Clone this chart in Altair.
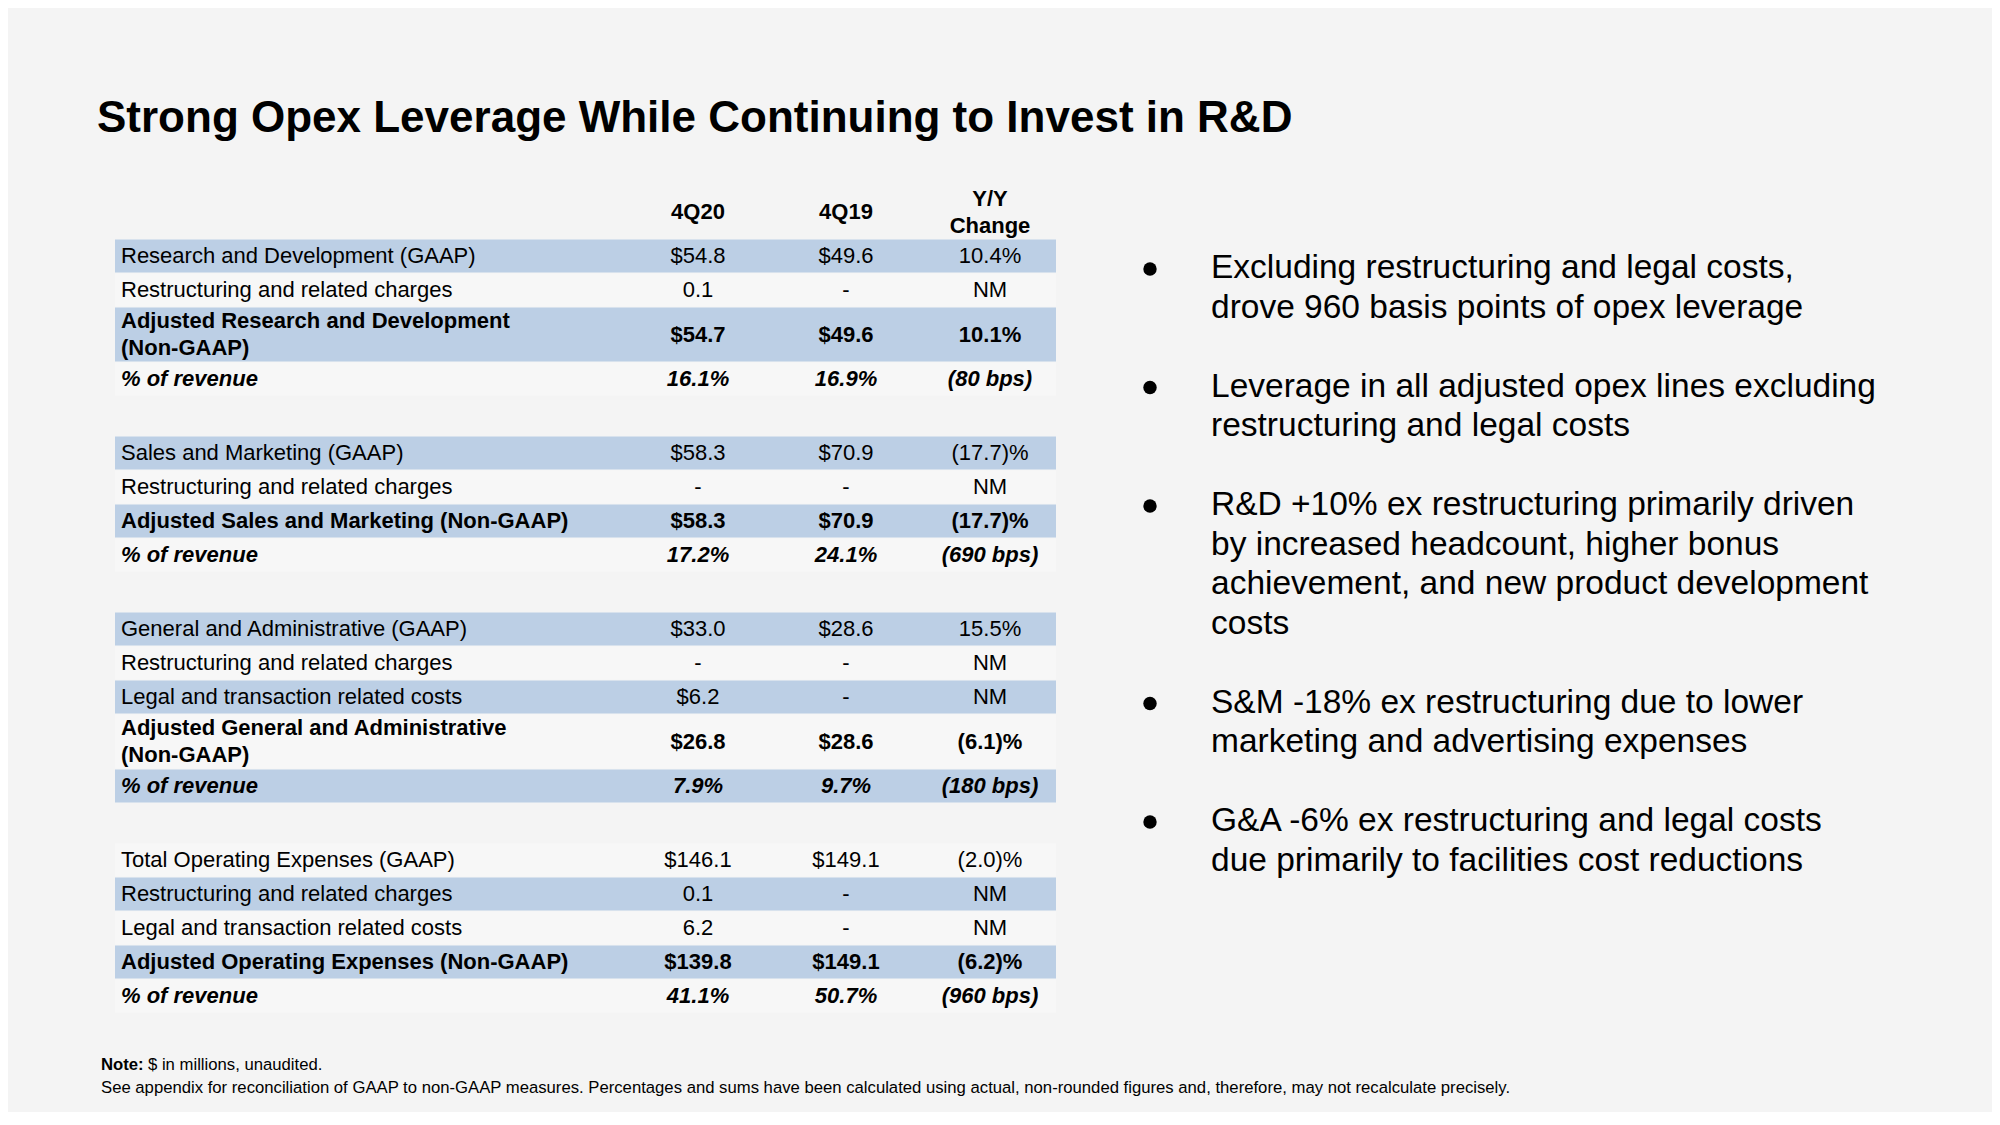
import altair as alt
import pandas as pd

# ---------------- data ----------------
TITLE = "Strong Opex Leverage While Continuing to Invest in R&D"
HEADERS = ["4Q20", "4Q19", "Y/Y\nChange"]

rd_labels = ["Research and Development (GAAP)", "Restructuring and related charges",
             "Adjusted Research and Development\n(Non-GAAP)", "% of revenue"]
rd_4q20 = ["$54.8", "0.1", "$54.7", "16.1%"]
rd_4q19 = ["$49.6", "-", "$49.6", "16.9%"]
rd_yy = ["10.4%", "NM", "10.1%", "(80 bps)"]

sm_labels = ["Sales and Marketing (GAAP)", "Restructuring and related charges",
             "Adjusted Sales and Marketing (Non-GAAP)", "% of revenue"]
sm_4q20 = ["$58.3", "-", "$58.3", "17.2%"]
sm_4q19 = ["$70.9", "-", "$70.9", "24.1%"]
sm_yy = ["(17.7)%", "NM", "(17.7)%", "(690 bps)"]

ga_labels = ["General and Administrative (GAAP)", "Restructuring and related charges",
             "Legal and transaction related costs",
             "Adjusted General and Administrative\n(Non-GAAP)", "% of revenue"]
ga_4q20 = ["$33.0", "-", "$6.2", "$26.8", "7.9%"]
ga_4q19 = ["$28.6", "-", "-", "$28.6", "9.7%"]
ga_yy = ["15.5%", "NM", "NM", "(6.1)%", "(180 bps)"]

tot_labels = ["Total Operating Expenses (GAAP)", "Restructuring and related charges",
              "Legal and transaction related costs",
              "Adjusted Operating Expenses (Non-GAAP)", "% of revenue"]
tot_4q20 = ["$146.1", "0.1", "6.2", "$139.8", "41.1%"]
tot_4q19 = ["$149.1", "-", "-", "$149.1", "50.7%"]
tot_yy = ["(2.0)%", "NM", "NM", "(6.2)%", "(960 bps)"]

bullets = [
    ["Excluding restructuring and legal costs,", "drove 960 basis points of opex leverage"],
    ["Leverage in all adjusted opex lines excluding", "restructuring and legal costs"],
    ["R&D +10% ex restructuring primarily driven", "by increased headcount, higher bonus",
     "achievement, and new product development", "costs"],
    ["S&M -18% ex restructuring due to lower", "marketing and advertising expenses"],
    ["G&A -6% ex restructuring and legal costs", "due primarily to facilities cost reductions"],
]

NOTE_BOLD = "Note:"
NOTE_1 = "$ in millions, unaudited."
NOTE_2 = ("See appendix for reconciliation of GAAP to non-GAAP measures. Percentages and sums have "
          "been calculated using actual, non-rounded figures and, therefore, may not recalculate precisely.")

# ---------------- layout ----------------
W, H = 1984, 1104
OFF = 8
FONT = "Liberation Sans"
BG = "#f4f4f4"
BLUE = "#bccfe5"
LIGHT = "#f7f7f7"

TABLE_X0, TABLE_X1 = 115 - OFF, 1056 - OFF
LABEL_X = 121 - OFF
COL_X = [698 - OFF, 846 - OFF, 990 - OFF]
ROW_H, ROW_H2, GAP = 34, 55, 40
LH = 27.5

sections = [
    (rd_labels, rd_4q20, rd_4q19, rd_yy),
    (sm_labels, sm_4q20, sm_4q19, sm_yy),
    (ga_labels, ga_4q20, ga_4q19, ga_yy),
    (tot_labels, tot_4q20, tot_4q19, tot_yy),
]

rows, cells = [], []
y = 239 - OFF
idx = 0
for s, (labels, a, b, c) in enumerate(sections):
    if s > 0:
        y += GAP
    for i, lab in enumerate(labels):
        nlines = lab.count("\n") + 1
        h = ROW_H2 if nlines > 1 else ROW_H
        if lab.startswith("Adjusted"):
            style = "bold"
        elif lab.startswith("%"):
            style = "pct"
        else:
            style = "normal"
        yc = y + h / 2
        rows.append(dict(label=lab, style=style, shade="blue" if idx % 2 == 0 else "light",
                         x0=TABLE_X0, x1=TABLE_X1, y0=y + 0.5, y1=y + h - 0.5,
                         yt=yc - LH * (nlines - 1) / 2, xl=LABEL_X))
        for cx, v in zip(COL_X, (a[i], b[i], c[i])):
            cells.append(dict(value=v, style=style, x=cx, yc=yc))
        y += h
        idx += 1

rows_df = pd.DataFrame(rows)
cells_df = pd.DataFrame(cells)

xs = alt.Scale(domain=[0, W], nice=False, zero=False)
ys = alt.Scale(domain=[0, H], reverse=True, nice=False, zero=False)


def X(f):
    return alt.X(f, type="quantitative", scale=xs, axis=None)


def Y(f):
    return alt.Y(f, type="quantitative", scale=ys, axis=None)


bands = alt.Chart(rows_df).mark_rect().encode(
    x=X("x0"), x2="x1", y=Y("y0"), y2="y1",
    color=alt.Color("shade:N", scale=alt.Scale(domain=["blue", "light"], range=[BLUE, LIGHT]),
                    legend=None),
)

styles = {
    "normal": dict(fontWeight="normal", fontStyle="normal"),
    "bold": dict(fontWeight="bold", fontStyle="normal"),
    "pct": dict(fontWeight="bold", fontStyle="italic"),
}

text_layers = []
for st, kw in styles.items():
    text_layers.append(
        alt.Chart(rows_df).transform_filter(alt.datum.style == st).mark_text(
            align="left", baseline="middle", font=FONT, fontSize=22, color="#000",
            lineBreak="\n", lineHeight=LH, **kw
        ).encode(x=X("xl"), y=Y("yt"), text="label:N")
    )
    text_layers.append(
        alt.Chart(cells_df).transform_filter(alt.datum.style == st).mark_text(
            align="center", baseline="middle", font=FONT, fontSize=22, color="#000", **kw
        ).encode(x=X("x"), y=Y("yc"), text="value:N")
    )

HLH = 27
head_df = pd.DataFrame(dict(
    h=HEADERS, x=COL_X,
    y=[212 - OFF - HLH * hh.count("\n") / 2 for hh in HEADERS]))
header = alt.Chart(head_df).mark_text(
    align="center", baseline="middle", font=FONT, fontSize=22, fontWeight="bold",
    color="#000", lineBreak="\n", lineHeight=HLH
).encode(x=X("x"), y=Y("y"), text="h:N")

title_df = pd.DataFrame(dict(t=[TITLE], x=[97 - OFF], y=[132 - OFF]))
title = alt.Chart(title_df).mark_text(
    align="left", baseline="alphabetic", font=FONT, fontSize=44, fontWeight="bold", color="#000"
).encode(x=X("x"), y=Y("y"), text="t:N")

# bullets
bl_rows, dots = [], []
yb = 268 - OFF
STEP = 39.5
for lines in bullets:
    dots.append(dict(x=1150 - OFF, y=yb + 1))
    for ln in lines:
        bl_rows.append(dict(t=ln, x=1211 - OFF, y=yb))
        yb += STEP
    yb += STEP
bl_df = pd.DataFrame(bl_rows)
dot_df = pd.DataFrame(dots)
bullet_text = alt.Chart(bl_df).mark_text(
    align="left", baseline="middle", font=FONT, fontSize=33.5, color="#000"
).encode(x=X("x"), y=Y("y"), text="t:N")
bullet_dots = alt.Chart(dot_df).mark_circle(size=180, color="#000", opacity=1).encode(
    x=X("x"), y=Y("y"))

note_df = pd.DataFrame(dict(t=[NOTE_BOLD], x=[101 - OFF], y=[1065 - OFF]))
note_b = alt.Chart(note_df).mark_text(
    align="left", baseline="middle", font=FONT, fontSize=16.7, fontWeight="bold", color="#000"
).encode(x=X("x"), y=Y("y"), text="t:N")
note_r_df = pd.DataFrame(dict(t=[NOTE_1, NOTE_2], x=[148 - OFF, 101 - OFF],
                              y=[1065 - OFF, 1088 - OFF]))
note_r = alt.Chart(note_r_df).mark_text(
    align="left", baseline="middle", font=FONT, fontSize=16.7, color="#000"
).encode(x=X("x"), y=Y("y"), text="t:N")

chart = alt.layer(
    bands, *text_layers, header, title, bullet_text, bullet_dots, note_b, note_r
).properties(
    width=W, height=H, padding=0, background=BG
).configure_view(stroke=None)

chart.save("out.html", embed_options={"renderer": "svg", "actions": False})
